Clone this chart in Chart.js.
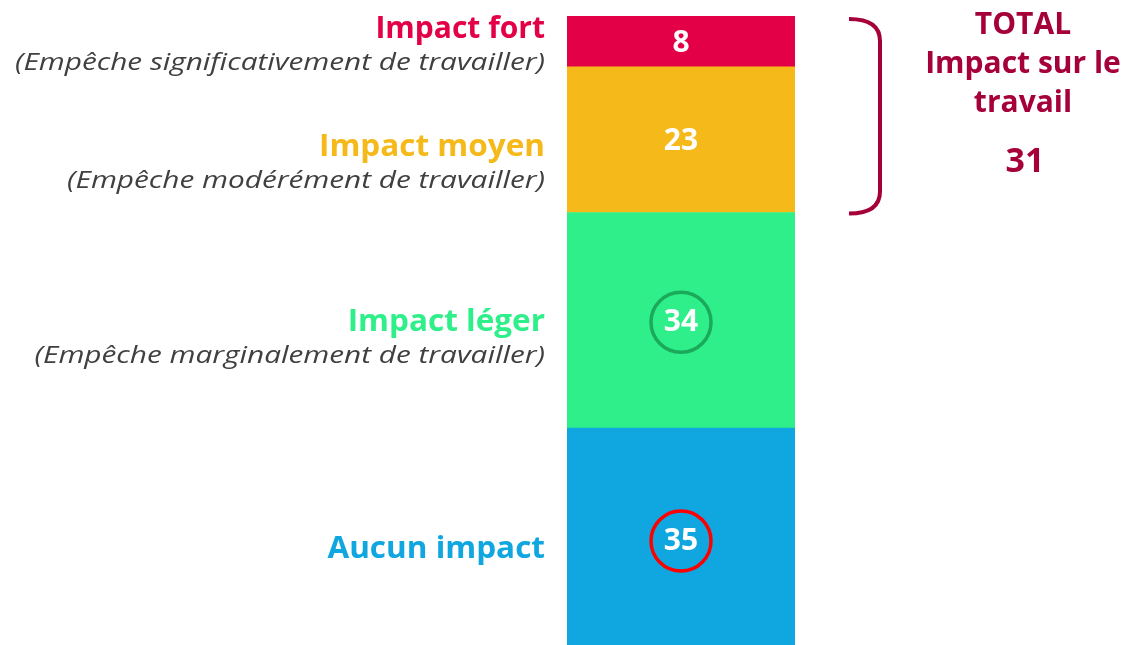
<!DOCTYPE html>
<html>
<head>
<meta charset="utf-8">
<script src="https://cdn.jsdelivr.net/npm/chart.js@4"></script>
<style>
    html, body { margin: 0; padding: 0; background: #fff; overflow: hidden; }
    canvas { display: block; }
</style>
</head>
<body>
<canvas id="chart" width="1127" height="650"></canvas>
<script>
// Data (bottom to top).
const categories = ["Réponses"];
const series_names = ["Aucun impact", "Impact léger", "Impact moyen", "Impact fort"];
const series_notes = ["", "(Empêche marginalement de travailler)", "(Empêche modérément de travailler)", "(Empêche significativement de travailler)"];
const series_values = [35, 34, 23, 8];
const total_label = ["TOTAL", "Impact sur le", "travail"];
const total_value = 31;

// Style.
const colors = ["#10A7E0", "#2EEF8A", "#F5B91A", "#E30046"];
const circle_colors = ["#FF0000", "#1BA95A", null, null];
const dark_red = "#A5003A";
const font_family = "'Open Sans', sans-serif";

// Title offsets from the middle of each segment (px).
const title_offsets = [10, 2, 8, -12];

// Draw text wider, like the original geometric font.
function wide_text(ctx, text, x, y, sx) {
    ctx.save();
    ctx.translate(x, y);
    ctx.scale(sx, 1);
    ctx.fillText(text, 0, 0);
    ctx.restore();
}

// Draw labels, values and bracket.
const overlay = {
    id: "overlay",
    afterDatasetsDraw(chart) {
        const ctx = chart.ctx;
        const y = chart.scales.y;
        const area = chart.chartArea;
        const cx = (area.left + area.right) / 2;

        let base = 0;
        series_values.forEach((v, i) => {
            const mid = y.getPixelForValue(base + v / 2);
            base += v;

            // Value inside the bar.
            ctx.save();
            ctx.fillStyle = "#fff";
            ctx.font = "bold 30px " + font_family;
            ctx.textAlign = "center";
            ctx.textBaseline = "middle";
            ctx.fillText(String(v), cx, mid + 2);
            if (circle_colors[i]) {
                ctx.beginPath();
                ctx.arc(cx, mid + 2, 30, 0, Math.PI * 2);
                ctx.lineWidth = 3.5;
                ctx.strokeStyle = circle_colors[i];
                ctx.stroke();
            }

            // Labels on the left.
            const ty = mid + title_offsets[i];
            ctx.textAlign = "right";
            ctx.fillStyle = colors[i];
            ctx.font = "bold 30px " + font_family;
            wide_text(ctx, series_names[i], area.left - 22, ty, i == 3 ? 1.0 : 1.05);
            if (series_notes[i]) {
                ctx.fillStyle = "#404040";
                ctx.font = "italic 24px " + font_family;
                wide_text(ctx, series_notes[i], area.left - 22, ty + 34, 1.24);
            }
            ctx.restore();
        });

        // Bracket over "Impact fort" + "Impact moyen".
        const top = y.getPixelForValue(100) + 3;
        const bottom = y.getPixelForValue(100 - series_values[3] - series_values[2]) + 1;
        const bx = 880, r = 22;
        ctx.save();
        ctx.strokeStyle = dark_red;
        ctx.lineWidth = 4;
        ctx.beginPath();
        ctx.moveTo(bx - 31, top);
        ctx.quadraticCurveTo(bx, top, bx, top + r);
        ctx.lineTo(bx, bottom - r);
        ctx.quadraticCurveTo(bx, bottom, bx - 31, bottom);
        ctx.stroke();

        // Total on the right.
        ctx.fillStyle = dark_red;
        ctx.textAlign = "center";
        ctx.textBaseline = "middle";
        ctx.font = "bold 30px " + font_family;
        total_label.forEach((t, k) => {
            ctx.fillText(t, 1023, 25 + k * 39);
        });
        ctx.font = "bold 34px " + font_family;
        ctx.fillText(String(total_value), 1025, 162);
        ctx.restore();
    }
};

const datasets = series_values.map((v, i) => ({
    label: series_names[i],
    data: [v],
    backgroundColor: colors[i],
    borderWidth: 0,
    barPercentage: 1,
    categoryPercentage: 1,
}));

new Chart(document.getElementById("chart"), {
    type: "bar",
    data: { labels: categories, datasets: datasets },
    options: {
        responsive: false,
        animation: false,
        layout: { padding: { left: 567, right: 332, top: 16, bottom: 0 } },
        plugins: { legend: { display: false }, tooltip: { enabled: false } },
        scales: {
            x: { stacked: true, display: false },
            y: { stacked: true, display: false, min: 0, max: 100 },
        },
    },
    plugins: [overlay],
});
</script>
</body>
</html>
